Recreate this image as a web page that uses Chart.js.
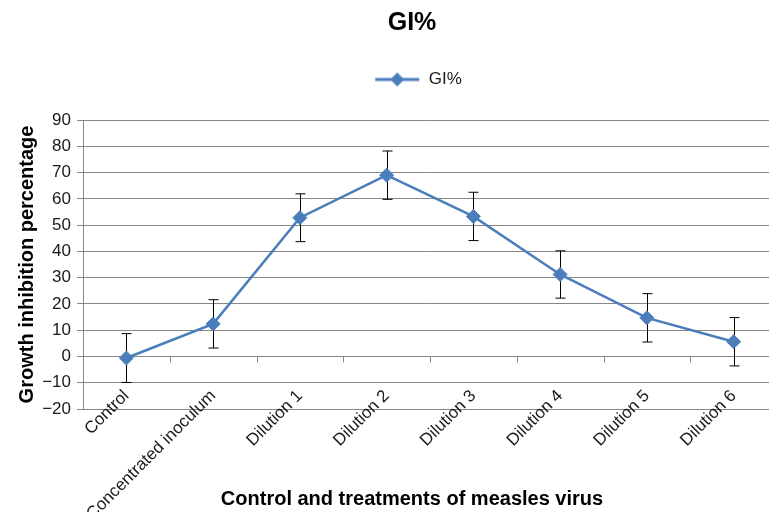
<!DOCTYPE html>
<html>
<head>
<meta charset="utf-8">
<script src="https://cdn.jsdelivr.net/npm/chart.js@4.4.1/dist/chart.umd.min.js"></script>
<style>
  html, body { margin: 0; padding: 0; background: #fff; overflow: hidden; }
</style>
</head>
<body>
<canvas id="chart" width="824" height="512"></canvas>
<script>
// data
var categories = ['Control', 'Concentrated inoculum', 'Dilution 1', 'Dilution 2', 'Dilution 3', 'Dilution 4', 'Dilution 5', 'Dilution 6'];
var giValues = [-0.6, 12.4, 52.8, 69.0, 53.3, 31.2, 14.7, 5.6];
var giErrors = [9.3, 9.2, 9.1, 9.2, 9.2, 9.0, 9.2, 9.2];
var yMin = -20, yMax = 90, yStep = 10;

var blue = '#4a7ebb',
    gridColor = '#878787',
    textColor = '#1a1a1a',
    font = "'Liberation Sans', Arial, sans-serif";

Chart.defaults.font.family = font;

// legend marker: line with a diamond in the middle (left part left blank on purpose)
var legendIcon = document.createElement('canvas');
legendIcon.width = 58;
legendIcon.height = 16;
(function() {
    var g = legendIcon.getContext('2d');
    g.strokeStyle = blue;
    g.lineWidth = 3;
    g.beginPath();
    g.moveTo(13, 8);
    g.lineTo(57, 8);
    g.stroke();
    g.fillStyle = blue;
    g.beginPath();
    g.moveTo(35, 1);
    g.lineTo(42, 8);
    g.lineTo(35, 15);
    g.lineTo(28, 8);
    g.closePath();
    g.fill();
})();

var extras = {
    id: 'extras',
    // more room under the legend, like the Excel original
    afterInit: function(chart) {
        var legend = chart.legend,
            fit = legend.fit;
        legend.fit = function() {
            fit.apply(this, arguments);
            this.height += 22;
        };
    },
    // error bars + category tick marks on the zero line
    beforeDatasetsDraw: function(chart) {
        var ctx = chart.ctx,
            x = chart.scales.x,
            y = chart.scales.y,
            meta = chart.getDatasetMeta(0);
        ctx.save();
        ctx.strokeStyle = gridColor;
        ctx.lineWidth = 1;
        var y0 = Math.round(y.getPixelForValue(0)) + 0.5;
        for (var i = 1; i < categories.length; i++) {
            var bx = Math.round((x.getPixelForValue(i - 1) + x.getPixelForValue(i)) / 2) + 0.5;
            ctx.beginPath();
            ctx.moveTo(bx, y0);
            ctx.lineTo(bx, y0 + 6);
            ctx.stroke();
        }
        ctx.strokeStyle = '#000';
        meta.data.forEach(function(pt, i) {
            var px = Math.round(pt.x) + 0.5,
                top = y.getPixelForValue(giValues[i] + giErrors[i]),
                bot = y.getPixelForValue(giValues[i] - giErrors[i]);
            ctx.beginPath();
            ctx.moveTo(px, top);
            ctx.lineTo(px, bot);
            ctx.moveTo(px - 5, top);
            ctx.lineTo(px + 5, top);
            ctx.moveTo(px - 5, bot);
            ctx.lineTo(px + 5, bot);
            ctx.stroke();
        });
        ctx.restore();
    }
};

new Chart(document.getElementById('chart').getContext('2d'), {
    type: 'line',
    data: {
        labels: categories,
        datasets: [{
            label: 'GI%',
            data: giValues,
            borderColor: blue,
            backgroundColor: blue,
            borderWidth: 2.5,
            pointStyle: 'rectRot',
            pointRadius: 7,
            pointBorderWidth: 1,
            tension: 0,
            fill: false
        }]
    },
    options: {
        responsive: false,
        animation: false,
        layout: {
            padding: 0
        },
        plugins: {
            title: {
                display: true,
                text: 'GI%',
                color: '#000',
                font: { size: 25, weight: 'bold' },
                padding: { top: 8, bottom: 21 }
            },
            legend: {
                display: true,
                position: 'top',
                labels: {
                    usePointStyle: true,
                    pointStyle: legendIcon,
                    pointStyleWidth: 58,
                    color: textColor,
                    font: { size: 17 },
                    padding: 12
                }
            },
            subtitle: {
                display: true,
                position: 'bottom',
                text: 'Control and treatments of measles virus',
                color: '#000',
                font: { size: 20, weight: 'bold' },
                padding: { top: 0, bottom: 1 }
            },
            tooltip: { enabled: false }
        },
        scales: {
            x: {
                offset: true,
                grid: { display: false },
                border: { display: false },
                ticks: {
                    color: textColor,
                    font: { size: 17 },
                    minRotation: 45,
                    maxRotation: 45,
                    autoSkip: false,
                    padding: -31
                },
                afterFit: function(scale) {
                    scale.height = 78;
                },
                afterUpdate: function(scale) {
                    // let the rotated labels run outside the scale box
                    scale._computeLabelArea = function() {};
                }
            },
            y: {
                min: yMin,
                max: yMax,
                ticks: {
                    stepSize: yStep,
                    color: textColor,
                    font: { size: 17 },
                    padding: 6,
                    callback: function(v) {
                        return String(v).replace('-', '\u2212');
                    }
                },
                grid: { color: gridColor, tickLength: 6, drawTicks: true },
                border: { color: gridColor },
                title: {
                    display: true,
                    text: 'Growth inhibition percentage',
                    color: '#000',
                    font: { size: 20, weight: 'bold' },
                    padding: { top: 15, bottom: 0 }
                },
                afterFit: function(scale) {
                    scale.width = 83;
                }
            },
            // empty right-hand box so the plot runs past the window edge
            yRight: {
                position: 'right',
                grid: { display: false },
                border: { display: false },
                ticks: { display: false },
                afterFit: function(scale) {
                    scale.width = 47;
                }
            }
        }
    },
    plugins: [extras]
});
</script>
</body>
</html>
